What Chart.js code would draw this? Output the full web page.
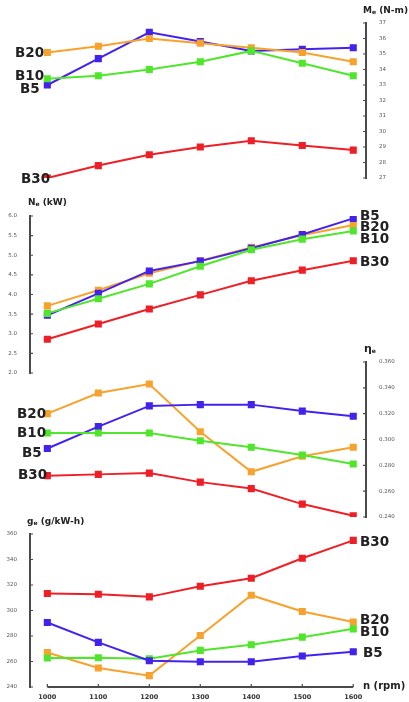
<!DOCTYPE html>
<html>
<head>
<meta charset="utf-8">
<script src="https://cdn.jsdelivr.net/npm/chart.js@4.4.0/dist/chart.umd.min.js"></script>
<style>
  body { margin: 0; background: #fff; }
  #wrap { position: relative; width: 409px; height: 702px; overflow: hidden; font-family: "DejaVu Sans", sans-serif; color: #222; }
  #wrap canvas { position: absolute; left: 0; }
  .lbl { position: absolute; font-weight: bold; font-size: 13.5px; line-height: 14px; transform: translateY(-50%); }
  .ttl { position: absolute; font-weight: bold; font-size: 9px; line-height: 10px; transform: translateY(-50%); white-space: nowrap; }
  .ttl sub { font-size: 6px; vertical-align: -1px; }
</style>
</head>
<body>
<div id="wrap">
  <canvas id="cMe" width="409" height="190" style="top:0px"></canvas>
  <canvas id="cNe" width="409" height="200" style="top:190px"></canvas>
  <canvas id="cEta" width="409" height="185" style="top:345px"></canvas>
  <canvas id="cGe" width="409" height="187" style="top:515px"></canvas>

  <div class="ttl" style="left:363px;top:11px">M<sub>e</sub> (N-m)</div>
  <div class="ttl" style="left:28px;top:203px">N<sub>e</sub> (kW)</div>
  <div class="ttl" style="left:364px;top:350px;font-size:11px">η<sub>e</sub></div>
  <div class="ttl" style="left:27px;top:522px">g<sub>e</sub> (g/kW-h)</div>
  <div class="ttl" style="left:363px;top:686px;font-size:10px">n (rpm)</div>

  <div class="lbl" style="left:15px;top:52px">B20</div>
  <div class="lbl" style="left:15px;top:75px">B10</div>
  <div class="lbl" style="left:20px;top:88px">B5</div>
  <div class="lbl" style="left:21px;top:178px">B30</div>

  <div class="lbl" style="left:360px;top:215px">B5</div>
  <div class="lbl" style="left:360px;top:226px">B20</div>
  <div class="lbl" style="left:360px;top:238px">B10</div>
  <div class="lbl" style="left:360px;top:261px">B30</div>

  <div class="lbl" style="left:17px;top:413px">B20</div>
  <div class="lbl" style="left:17px;top:432px">B10</div>
  <div class="lbl" style="left:22px;top:452px">B5</div>
  <div class="lbl" style="left:18px;top:474px">B30</div>

  <div class="lbl" style="left:360px;top:541px">B30</div>
  <div class="lbl" style="left:360px;top:619px">B20</div>
  <div class="lbl" style="left:360px;top:631px">B10</div>
  <div class="lbl" style="left:363px;top:652px">B5</div>
</div>
<script>
// engine speed, rpm
const rpm = [1000, 1100, 1200, 1300, 1400, 1500, 1600];

// effective torque Me, N-m
const meB5  = [33.0, 34.7, 36.4, 35.8, 35.2, 35.3, 35.4];
const meB10 = [33.4, 33.6, 34.0, 34.5, 35.2, 34.4, 33.6];
const meB20 = [35.1, 35.5, 36.0, 35.7, 35.4, 35.1, 34.5];
const meB30 = [27.0, 27.8, 28.5, 29.0, 29.4, 29.1, 28.8];

// effective power Ne, kW
const neB5  = [3.47, 4.03, 4.60, 4.85, 5.18, 5.53, 5.94];
const neB10 = [3.52, 3.89, 4.27, 4.72, 5.14, 5.41, 5.62];
const neB20 = [3.71, 4.11, 4.54, 4.86, 5.20, 5.51, 5.77];
const neB30 = [2.86, 3.25, 3.63, 3.99, 4.35, 4.62, 4.86];

// effective efficiency
const etaB5  = [0.293, 0.310, 0.326, 0.327, 0.327, 0.322, 0.318];
const etaB10 = [0.305, 0.305, 0.305, 0.299, 0.294, 0.288, 0.281];
const etaB20 = [0.320, 0.336, 0.343, 0.306, 0.275, 0.287, 0.294];
const etaB30 = [0.272, 0.273, 0.274, 0.267, 0.262, 0.250, 0.241];

// specific fuel consumption ge, g/kW-h
const geB5  = [290.6, 275.0, 260.6, 259.8, 259.8, 264.3, 267.6];
const geB10 = [262.7, 263.0, 262.2, 268.7, 273.1, 279.1, 285.6];
const geB20 = [267.1, 254.9, 248.9, 280.4, 312.0, 299.2, 290.9];
const geB30 = [313.3, 312.8, 310.7, 319.0, 325.3, 341.0, 355.0];

const COL = { B5: '#4322ee', B10: '#4fe62c', B20: '#f8a22e', B30: '#ee1f26' };

// draws the axis line with short inward ticks, plus the bottom rpm axis
const axisDeco = {
  id: 'axisDeco',
  afterDraw(chart, args, opts) {
    const ctx = chart.ctx, a = chart.chartArea, ys = chart.scales.y, xs = chart.scales.x;
    const left = opts.side === 'left';
    const x0 = left ? a.left : a.right;
    const dir = left ? 1 : -1;
    ctx.save();
    ctx.strokeStyle = '#4a4a4a';
    ctx.lineWidth = 2;
    ctx.beginPath();
    ctx.moveTo(x0, ys.getPixelForValue(ys.max) - 1);
    ctx.lineTo(x0, ys.getPixelForValue(ys.min) + 1);
    ctx.stroke();
    ctx.lineWidth = 1.2;
    ctx.beginPath();
    ys.ticks.forEach(t => {
      const py = ys.getPixelForValue(t.value);
      ctx.moveTo(x0, py);
      ctx.lineTo(x0 + dir * 3, py);
    });
    ctx.stroke();
    if (opts.xLine) {
      const py = a.bottom;
      ctx.lineWidth = 2;
      ctx.beginPath();
      ctx.moveTo(xs.getPixelForValue(rpm[0]), py);
      ctx.lineTo(xs.getPixelForValue(rpm[rpm.length - 1]), py);
      ctx.stroke();
      ctx.lineWidth = 1.2;
      ctx.beginPath();
      rpm.forEach(v => {
        const px = xs.getPixelForValue(v);
        ctx.moveTo(px, py);
        ctx.lineTo(px, py - 3);
      });
      ctx.stroke();
    }
    ctx.restore();
  }
};

function series(name, vals) {
  return {
    label: name,
    data: rpm.map((x, i) => ({ x: x, y: vals[i] })),
    borderColor: COL[name],
    backgroundColor: COL[name],
    borderWidth: 2,
    pointStyle: 'rect',
    pointRadius: 3.6,
    tension: 0
  };
}

function makePanel(id, cfg) {
  const ctx = document.getElementById(id).getContext('2d');
  return new Chart(ctx, {
    type: 'line',
    data: { datasets: cfg.datasets },
    plugins: [axisDeco],
    options: {
      responsive: false,
      animation: false,
      devicePixelRatio: 1,
      layout: { padding: cfg.padding },
      plugins: {
        legend: { display: false },
        tooltip: { enabled: false },
        axisDeco: { side: cfg.side, xLine: !!cfg.xAxis }
      },
      scales: {
        x: {
          type: 'linear',
          min: 966,
          max: 1625,
          display: !!cfg.xAxis,
          grid: { display: false, drawTicks: false },
          border: { display: false },
          afterBuildTicks: s => { s.ticks = rpm.map(v => ({ value: v })); },
          afterFit: s => { s.height = cfg.xAxis ? 13 : 0; },
          ticks: {
            font: { family: 'DejaVu Sans', size: 6.5, weight: 'bold' },
            color: '#333',
            padding: 6,
            maxRotation: 0,
            callback: v => String(v)
          }
        },
        y: {
          position: cfg.side,
          min: cfg.min,
          max: cfg.max,
          grid: { display: false },
          border: { display: false },
          afterFit: s => { s.width = cfg.side === 'left' ? 30 : 43; },
          ticks: {
            stepSize: cfg.step,
            font: { family: 'DejaVu Sans', size: 5.5 },
            color: '#555',
            padding: 5,
            callback: v => v.toFixed(cfg.dec)
          }
        }
      }
    }
  });
}

makePanel('cMe', {
  side: 'right', min: 27, max: 37, step: 1, dec: 0,
  padding: { left: 30, right: 0, top: 23, bottom: 12 },
  datasets: [series('B30', meB30), series('B10', meB10), series('B20', meB20), series('B5', meB5)]
});

makePanel('cNe', {
  side: 'left', min: 2, max: 6, step: 0.5, dec: 1,
  padding: { left: 0, right: 43, top: 26, bottom: 17 },
  datasets: [series('B30', neB30), series('B10', neB10), series('B5', neB5), series('B20', neB20)]
});

makePanel('cEta', {
  side: 'right', min: 0.24, max: 0.36, step: 0.02, dec: 3,
  padding: { left: 30, right: 0, top: 17, bottom: 13 },
  datasets: [series('B30', etaB30), series('B10', etaB10), series('B5', etaB5), series('B20', etaB20)]
});

makePanel('cGe', {
  side: 'left', min: 240, max: 360, step: 20, dec: 0, xAxis: true,
  padding: { left: 0, right: 43, top: 19, bottom: 2 },
  datasets: [series('B30', geB30), series('B5', geB5), series('B10', geB10), series('B20', geB20)]
});
</script>
</body>
</html>
